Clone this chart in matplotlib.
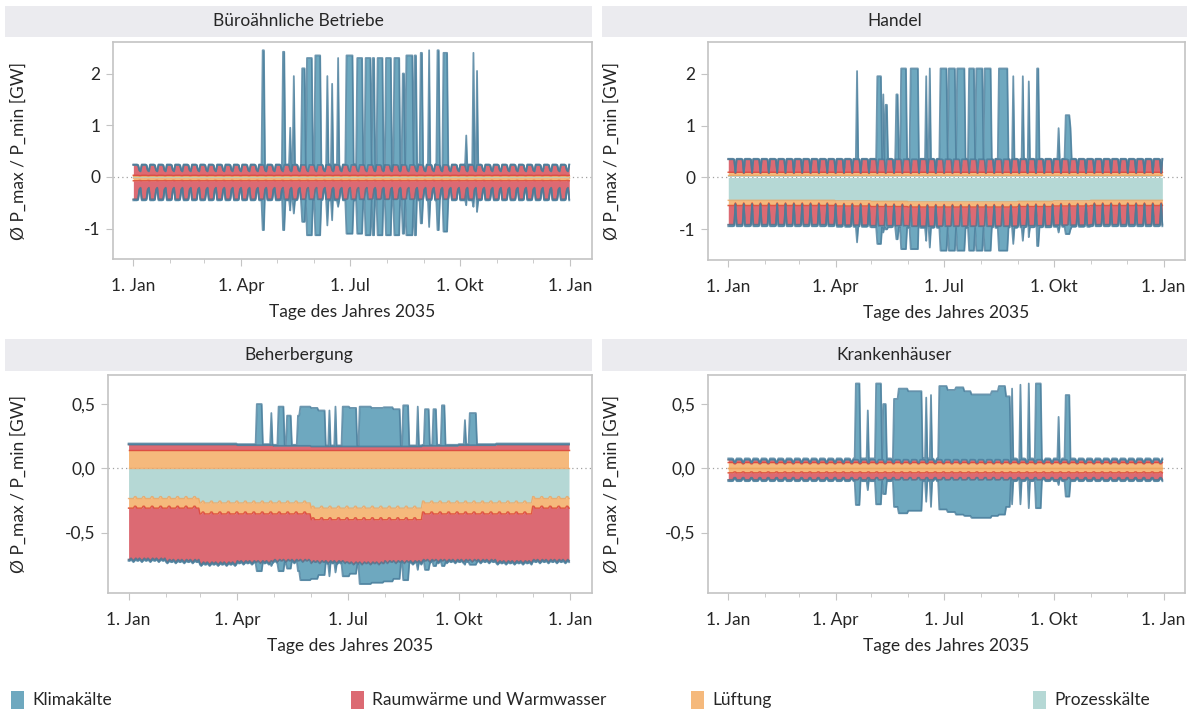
import matplotlib
matplotlib.use("Agg")
import matplotlib.pyplot as plt
import numpy as np
from matplotlib.patches import Rectangle

plt.rcParams['font.family'] = ['Lato', 'DejaVu Sans']

# ---- data -------------------------------------------------------------
days = np.arange(365)                      # 1 Jan 2035 (Monday) = day 0
month_len = [31, 28, 31, 30, 31, 30, 31, 31, 30, 31, 30, 31]
tick_days = [0, 90, 181, 273, 365]
tick_labels = ['1. Jan', '1. Apr', '1. Jul', '1. Okt', '1. Jan']
minor_days = [31, 59, 120, 151, 212, 243, 304, 334]

series_names = ['Klimakälte', 'Raumwärme und Warmwasser', 'Lüftung', 'Prozesskälte']

# Büroähnliche Betriebe, weekly profile Mon..Sun [GW]
bu_proz_pos = [0.015, 0.015, 0.015, 0.015, 0.015, 0.015, 0.015]
bu_luft_pos = [0.015, 0.015, 0.015, 0.015, 0.015, 0.01, 0.01]
bu_raum_pos = [0.20, 0.20, 0.20, 0.20, 0.19, 0.10, 0.08]
bu_klima_pos = [0.01, 0.01, 0.01, 0.01, 0.01, 0.01, 0.01]
bu_proz_neg = [-0.03, -0.03, -0.03, -0.03, -0.03, -0.03, -0.03]
bu_luft_neg = [-0.045, -0.045, -0.045, -0.045, -0.045, -0.04, -0.04]
bu_raum_neg = [-0.36, -0.36, -0.36, -0.36, -0.35, -0.17, -0.14]
bu_klima_neg = [-0.02, -0.02, -0.02, -0.02, -0.02, -0.02, -0.02]
bu_hot_from = [108, 125, 131, 134, 141, 145, 152, 162, 166, 171, 178, 187, 194, 200,
               204, 211, 218, 225, 228, 235, 240, 247, 254, 259, 278, 284, 287]
bu_hot_to = [109, 126, 131, 134, 143, 149, 156, 162, 166, 171, 183, 191, 198, 201,
             208, 215, 222, 226, 233, 236, 241, 247, 255, 262, 278, 284, 287]
bu_hot_max = [2.45, 2.42, 0.95, 1.95, 2.1, 2.3, 2.35, 1.95, 1.8, 2.3, 2.35, 2.3, 2.3, 2.3,
              2.3, 2.3, 2.3, 2.0, 2.35, 2.35, 2.4, 2.45, 2.45, 2.4, 0.8, 2.4, 2.05]
bu_hot_min = [-1.03, -1.03, -0.65, -0.71, -0.87, -1.13, -1.13, -0.94, -0.84, -0.58, -1.1,
              -1.1, -1.13, -1.13, -1.13, -1.13, -1.13, -1.1, -1.13, -1.13, -0.9, -0.97,
              -1.03, -1.06, -0.55, -0.58, -0.68]

# Handel
ha_proz_pos = [0.04, 0.04, 0.04, 0.04, 0.04, 0.04, 0.04]
ha_luft_pos = [0.06, 0.06, 0.06, 0.06, 0.06, 0.06, 0.04]
ha_raum_pos = [0.25, 0.25, 0.25, 0.25, 0.25, 0.24, 0.01]
ha_klima_pos = [0.01, 0.01, 0.01, 0.01, 0.01, 0.01, 0.01]
ha_proz_neg_month = [-0.44, -0.44, -0.44, -0.45, -0.46, -0.47, -0.47, -0.47, -0.46, -0.45, -0.44, -0.44]
ha_luft_neg = [-0.10, -0.10, -0.10, -0.10, -0.10, -0.10, -0.05]
ha_raum_neg = [-0.37, -0.37, -0.37, -0.37, -0.37, -0.36, -0.02]
ha_klima_neg = [-0.03, -0.03, -0.03, -0.03, -0.03, -0.03, -0.03]
ha_hot_from = [108, 125, 130, 132, 141, 145, 153, 166, 169, 178, 185, 192, 202, 208,
               215, 227, 239, 247, 252, 259, 277, 283, 287]
ha_hot_to = [108, 128, 130, 133, 142, 149, 159, 166, 169, 183, 190, 198, 206, 213,
             220, 234, 239, 247, 252, 260, 277, 286, 287]
ha_hot_max = [2.05, 1.95, 1.6, 1.4, 1.6, 2.1, 2.1, 1.95, 2.1, 2.1, 2.1, 2.1, 2.1, 2.1,
              2.1, 2.1, 1.95, 1.95, 1.85, 2.1, 0.95, 1.2, 0.95]
ha_hot_min = [-1.25, -1.28, -1.06, -1.0, -1.19, -1.38, -1.38, -1.22, -1.35, -1.41, -1.41,
              -1.41, -1.41, -1.41, -1.41, -1.41, -1.28, -1.22, -1.15, -1.32, -1.06, -1.09, -1.0]

# Beherbergung
be_luft_pos = [0.14, 0.14, 0.14, 0.14, 0.14, 0.14, 0.14]
be_raum_pos_month = [0.045, 0.045, 0.045, 0.04, 0.035, 0.03, 0.03, 0.03, 0.035, 0.04, 0.045, 0.045]
be_klima_pos = [0.008, 0.008, 0.008, 0.008, 0.008, 0.008, 0.008]
be_proz_neg_month = [-0.235, -0.235, -0.27, -0.27, -0.27, -0.31, -0.31, -0.31, -0.27, -0.27, -0.27, -0.235]
be_proz_neg_week = [0.0, 0.0, 0.0, 0.0, 0.0, 0.015, 0.015]
be_luft_neg_month = [-0.075, -0.075, -0.085, -0.085, -0.085, -0.09, -0.09, -0.09, -0.085, -0.085, -0.085, -0.075]
be_bottom_month = [-0.71, -0.72, -0.74, -0.73, -0.72, -0.73, -0.74, -0.73, -0.72, -0.72, -0.73, -0.72]
be_bottom_week = [0.0, 0.0, 0.01, 0.0, -0.01, 0.0, 0.01]
be_klima_neg = [-0.01, -0.01, -0.01, -0.01, -0.01, -0.01, -0.01]
be_hot_from = [106, 118, 124, 131, 140, 142, 151, 157, 166, 171, 177, 183, 191, 201, 211,
               219, 227, 239, 245, 252, 259, 278, 282]
be_hot_to = [110, 118, 128, 134, 141, 150, 156, 162, 166, 171, 182, 188, 200, 210, 218,
             224, 231, 239, 248, 254, 261, 278, 287]
be_hot_max = [0.50, 0.43, 0.48, 0.41, 0.41, 0.48, 0.47, 0.45, 0.45, 0.48, 0.48, 0.47, 0.48,
              0.47, 0.475, 0.46, 0.49, 0.48, 0.46, 0.46, 0.49, 0.375, 0.43]
be_hot_min = [-0.80, -0.76, -0.80, -0.78, -0.80, -0.87, -0.86, -0.83, -0.84, -0.81, -0.84,
              -0.82, -0.90, -0.89, -0.88, -0.86, -0.87, -0.79, -0.79, -0.76, -0.76, -0.75, -0.75]

# Krankenhäuser
kr_luft_pos = [0.045, 0.045, 0.045, 0.045, 0.045, 0.035, 0.035]
kr_raum_pos = [0.022, 0.022, 0.022, 0.022, 0.02, 0.01, 0.01]
kr_klima_pos = [0.01, 0.01, 0.01, 0.01, 0.01, 0.01, 0.01]
kr_luft_neg = [-0.035, -0.035, -0.035, -0.035, -0.035, -0.028, -0.028]
kr_raum_neg = [-0.055, -0.055, -0.055, -0.055, -0.053, -0.045, -0.045]
kr_klima_neg = [-0.01, -0.01, -0.01, -0.01, -0.01, -0.01, -0.01]
kr_hot_from = [107, 117, 124, 130, 139, 143, 151, 166, 170, 177, 184, 191, 198, 204, 221,
               227, 233, 238, 245, 252, 258, 277, 283]
kr_hot_to = [110, 117, 128, 132, 142, 150, 162, 166, 170, 183, 190, 197, 203, 220, 226,
             232, 236, 238, 245, 252, 262, 277, 286]
kr_hot_max = [0.66, 0.45, 0.66, 0.50, 0.54, 0.62, 0.60, 0.55, 0.57, 0.64, 0.61, 0.63, 0.60,
              0.575, 0.60, 0.64, 0.56, 0.62, 0.65, 0.66, 0.66, 0.40, 0.57]
kr_hot_min = [-0.285, -0.17, -0.28, -0.2, -0.30, -0.35, -0.33, -0.26, -0.3, -0.32, -0.34,
              -0.36, -0.37, -0.385, -0.37, -0.36, -0.30, -0.28, -0.28, -0.31, -0.31, -0.13, -0.22]


def weekly(v):
    return np.resize(np.asarray(v, float), 365)


def per_month(v):
    return np.repeat(np.asarray(v, float), month_len)


zero = np.zeros(365)


def add_heat(pos, neg, hot_from, hot_to, hot_max, hot_min):
    # pos / neg: lists [proz, luft, raum, klima]
    base_p = pos[0] + pos[1] + pos[2]
    base_n = neg[0] + neg[1] + neg[2]
    for s, e, hi, lo in zip(hot_from, hot_to, hot_max, hot_min):
        sl = slice(s, e + 1)
        pos[3][sl] = np.maximum(hi - base_p[sl], pos[3][sl])
        neg[3][sl] = np.minimum(lo - base_n[sl], neg[3][sl])
    return pos, neg


bu = add_heat([weekly(bu_proz_pos), weekly(bu_luft_pos), weekly(bu_raum_pos), weekly(bu_klima_pos)],
              [weekly(bu_proz_neg), weekly(bu_luft_neg), weekly(bu_raum_neg), weekly(bu_klima_neg)],
              bu_hot_from, bu_hot_to, bu_hot_max, bu_hot_min)
ha = add_heat([weekly(ha_proz_pos), weekly(ha_luft_pos), weekly(ha_raum_pos), weekly(ha_klima_pos)],
              [per_month(ha_proz_neg_month), weekly(ha_luft_neg), weekly(ha_raum_neg), weekly(ha_klima_neg)],
              ha_hot_from, ha_hot_to, ha_hot_max, ha_hot_min)
be_proz_n = per_month(be_proz_neg_month) + weekly(be_proz_neg_week)
be_luft_n = per_month(be_luft_neg_month)
be_raum_n = per_month(be_bottom_month) + weekly(be_bottom_week) - be_proz_n - be_luft_n
be = add_heat([zero.copy(), weekly(be_luft_pos), per_month(be_raum_pos_month), weekly(be_klima_pos)],
              [be_proz_n, be_luft_n, be_raum_n, weekly(be_klima_neg)],
              be_hot_from, be_hot_to, be_hot_max, be_hot_min)
kr = add_heat([zero.copy(), weekly(kr_luft_pos), weekly(kr_raum_pos), weekly(kr_klima_pos)],
              [zero.copy(), weekly(kr_luft_neg), weekly(kr_raum_neg), weekly(kr_klima_neg)],
              kr_hot_from, kr_hot_to, kr_hot_max, kr_hot_min)

# ---- styling ----------------------------------------------------------
fills = ['#b5d8d5', '#f5b97c', '#dc6a73', '#6ea8bf']     # proz, luft, raum, klima
edges = [None, '#eea45e', '#dd4438', '#4a7d9b']
legend_cols = ['#6ea8bf', '#dc6a73', '#f5b97c', '#b5d8d5']
text_col = '#262626'
grid_col = '#c4c4c4'

W, H = 1192, 713
fig = plt.figure(figsize=(W / 100, H / 100), dpi=100)


def frect(l, t, r, b):
    return [l / W, 1 - b / H, (r - l) / W, (b - t) / H]


panels = [
    ('Büroähnliche Betriebe', bu, (113, 42, 592, 259), (5, 6, 592, 37), (-1.59, 2.61),
     [2, 1, 0, -1], ['2', '1', '0', '-1']),
    ('Handel', ha, (708, 42, 1185, 260), (602, 6, 1187, 37), (-1.59, 2.61),
     [2, 1, 0, -1], ['2', '1', '0', '-1']),
    ('Beherbergung', be, (108, 375, 592, 593), (5, 339, 592, 371), (-0.97, 0.726),
     [0.5, 0.0, -0.5], ['0,5', '0,0', '-0,5']),
    ('Krankenhäuser', kr, (708, 375, 1185, 593), (602, 339, 1187, 371), (-0.97, 0.726),
     [0.5, 0.0, -0.5], ['0,5', '0,0', '-0,5']),
]

for title, (pos, neg), box, strip, ylim, yt, ytl in panels:
    fig.patches.append(Rectangle((strip[0] / W, 1 - strip[3] / H), (strip[2] - strip[0]) / W,
                                 (strip[3] - strip[1]) / H, transform=fig.transFigure,
                                 facecolor='#ebebef', edgecolor='none'))
    fig.text((strip[0] + strip[2]) / 2 / W, 1 - (strip[1] + strip[3]) / 2 / H, title,
             ha='center', va='center', fontsize=12.5, color=text_col)

    ax = fig.add_axes(frect(*box))
    ax.axhline(0, color='#a0a0a0', lw=0.9, ls=(0, (1, 2.5)), zorder=0)
    for stack in (pos, neg):
        lower = np.zeros(365)
        for i in range(4):
            upper = lower + stack[i]
            ax.fill_between(days, lower, upper, color=fills[i], lw=0, zorder=1 + i)
            if edges[i] is not None:
                lw = 1.3 if i == 3 else 1.0
                ax.plot(days, lower, color=edges[i], lw=lw, alpha=0.8, zorder=1.5 + i)
                ax.plot(days, upper, color=edges[i], lw=lw, alpha=0.8, zorder=1.5 + i)
            lower = upper

    ax.set_xlim(-17, 383)
    ax.set_ylim(*ylim)
    ax.set_xticks(tick_days)
    ax.set_xticklabels(tick_labels)
    ax.set_xticks(minor_days, minor=True)
    ax.set_yticks(yt)
    ax.set_yticklabels(ytl)
    for sp in ax.spines.values():
        sp.set_color(grid_col)
        sp.set_linewidth(1.2)
    ax.tick_params(axis='both', which='major', length=5, color=grid_col, labelsize=12.5,
                   labelcolor=text_col)
    ax.tick_params(axis='x', which='major', pad=9)
    ax.tick_params(axis='y', which='major', pad=4)
    ax.tick_params(axis='x', which='minor', length=3, color=grid_col)
    ax.set_xlabel('Tage des Jahres 2035', fontsize=12.5, color=text_col, labelpad=7)
    ax.set_ylabel('Ø P_max / P_min [GW]', fontsize=12.5, color=text_col)
    ax.yaxis.set_label_coords((27 - box[0]) / (box[2] - box[0]) if box[0] < 600
                              else (620 - box[0]) / (box[2] - box[0]), 0.5)

# legend along the bottom
leg_x = [11, 351, 691, 1033]
for x0, name, col in zip(leg_x, series_names, legend_cols):
    fig.patches.append(Rectangle((x0 / W, 1 - 709 / H), 13 / W, 18 / H,
                                 transform=fig.transFigure, facecolor=col, edgecolor='none'))
    fig.text((x0 + 21) / W, 1 - 700 / H, name, ha='left', va='center',
             fontsize=12.5, color=text_col)

fig.savefig('out.png', dpi=100)
